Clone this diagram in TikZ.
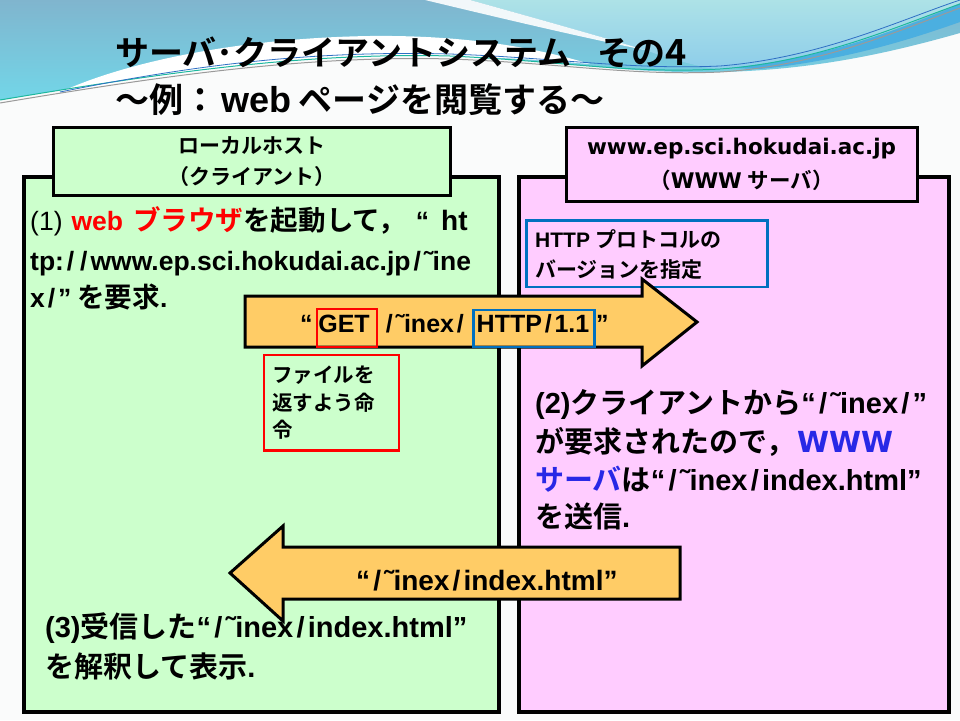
\documentclass[tikz,border=0pt]{standalone}
\usepackage{fontspec}
\setmainfont{Liberation Sans}
\newfontfamily\jpA{Noto Sans CJK JP}[Scale=1.04,BoldFont={Noto Sans CJK JP Bold}]
\newfontfamily\jpB{Noto Sans CJK JP}[BoldFont={Noto Sans CJK JP Bold}]
\newfontfamily\jpt{Noto Sans CJK JP}[BoldFont={Noto Sans CJK JP Bold}]
\newfontfamily\dv{DejaVu Sans}
\newcommand\SL{\makebox[0.5em]{/}}
\definecolor{bgwhite}{HTML}{FAFBFB}
\definecolor{skyA}{HTML}{80B5CE}
\definecolor{skyB}{HTML}{72D6E8}
\definecolor{skyC}{HTML}{ADE2E7}
\definecolor{skyD}{HTML}{8DCDEA}
\definecolor{skyband}{HTML}{4BAFE0}
\definecolor{lineteal}{HTML}{1DB89E}
\definecolor{lineblue}{HTML}{2F6FC4}
\definecolor{linegrey}{HTML}{9A9A9A}
\definecolor{boxgreen}{HTML}{CCFFCC}
\definecolor{boxpink}{HTML}{FFCCFF}
\definecolor{arrfill}{HTML}{FFCC66}
\definecolor{hblue}{HTML}{0070C0}
\definecolor{wblue}{RGB}{40,40,230}
\tikzset{
  bigbox/.style={draw=black,line width=3.5pt,inner sep=0pt,anchor=north west},
  lblbox/.style={draw=black,line width=3pt,inner sep=0pt,align=center},
  redbox/.style={draw=red,line width=2.5pt,inner sep=0pt,anchor=north west},
  bluebox/.style={draw=hblue,line width=2.5pt,inner sep=0pt,anchor=north west},
  arrowshape/.style={draw=black,line width=3pt,fill=arrfill,line join=miter},
  txt/.style={anchor=base west,inner sep=0pt},
  bodyA/.style={txt,font=\bfseries\fontsize{26.5}{30}\selectfont},
  bodyB/.style={txt,font=\bfseries\fontsize{29}{33}\selectfont},
  small/.style={txt,font=\bfseries\fontsize{21}{27}\selectfont},
  arrtxt/.style={txt,font=\bfseries\fontsize{25}{28}\selectfont},
}
\begin{document}
\begin{tikzpicture}[x=1pt,y=-1pt]
\useasboundingbox (0,0) rectangle (960,720);
% background
\fill[bgwhite] (0,0) rectangle (960,720);
\shade[top color=skyA,bottom color=skyB] (0,0) -- (960,0) -- (960,33)
  .. controls (900,50) and (820,70) .. (720,72)
  .. controls (620,74) and (560,60) .. (450,56)
  .. controls (300,52) and (150,75) .. (0,100) -- cycle;
\shade[top color=skyC,bottom color=skyD] (470,0) -- (960,0) -- (960,3)
  .. controls (900,28) and (820,62) .. (720,70)
  .. controls (690,65) and (665,57) .. (645,50)
  .. controls (585,32) and (520,14) .. (470,0) -- cycle;
\fill[skyband] (730,68) .. controls (830,58) and (910,25) .. (960,4) -- (960,22)
  .. controls (920,36) and (850,60) .. (760,69) -- cycle;
\fill[white] (50,97) .. controls (120,62) and (240,38) .. (370,36)
  .. controls (460,35) and (530,46) .. (590,64)
  .. controls (540,60) and (500,57) .. (450,57)
  .. controls (300,53) and (150,76) .. (50,95) -- cycle;
\fill[white,opacity=0.9] (425,0) -- (470,0) .. controls (520,14) and (585,32) .. (645,50)
  .. controls (580,37) and (500,18) .. (425,0) -- cycle;
\draw[linegrey,line width=1pt] (0,103) .. controls (150,78) and (300,55) .. (450,59)
  .. controls (560,63) and (630,76) .. (720,72) .. controls (820,66) and (900,30) .. (960,8);
\draw[lineteal,line width=1pt] (0,100) .. controls (150,75) and (300,52) .. (450,56)
  .. controls (560,61) and (630,74) .. (720,69) .. controls (820,62) and (900,25) .. (960,4);
\draw[lineblue,line width=0.8pt] (60,92) .. controls (180,68) and (300,50) .. (450,54)
  .. controls (560,58) and (630,70) .. (720,66) .. controls (820,58) and (900,20) .. (960,0);

% title
\node[txt,font=\bfseries\jpt\fontsize{34}{40}\selectfont] (title1) at (115,65)
  {サーバ･クライアントシステム\hspace{26pt}その{\fontsize{36}{40}\selectfont 4}};
\node[txt,font=\bfseries\jpt\fontsize{34}{40}\selectfont] (title2) at (115,112)
  {～例：\hspace{4pt}{\rmfamily\fontsize{36}{40}\selectfont web} ページを閲覧する～};

% big boxes
\node[bigbox,fill=boxgreen,minimum width=475pt,minimum height=535pt] (client) at (22,175) {};
\node[bigbox,fill=boxpink,minimum width=430pt,minimum height=535pt] (server) at (517,175) {};

% labels
\node[lblbox,fill=boxgreen,minimum width=396.5pt,minimum height=68pt,
  font=\bfseries\jpt\fontsize{21}{31}\selectfont] (clientlbl) at (251.75,161.5)
  {ローカルホスト\\（クライアント）};
\node[lblbox,fill=boxpink,minimum width=351pt,minimum height=73.5pt,
  font=\bfseries\fontsize{21.5}{34}\selectfont] (serverlbl) at (741.5,164.25)
  {{\dv www.ep.sci.hokudai.ac.jp}\\{\jpt（}{\dv WWW} {\jpt サーバ）}};

% HTTP note
\node[bluebox,minimum width=241pt,minimum height=66.5pt] (httpnote) at (525,219) {};
\node[small] (httpnoteA) at (535,247) {HTTP {\jpt\fontsize{21}{27}\selectfont プロトコルの}};
\node[small] (httpnoteB) at (535,277) {\jpt\fontsize{21}{27}\selectfont バージョンを指定};

% request arrow
\draw[arrowshape] (245,296) -- (642,296) -- (642,279) -- (697,322) -- (642,366)
  -- (642,347) -- (245,347) -- cycle;
\node[redbox,minimum width=60pt,minimum height=38pt] (getbox) at (315.5,307.5) {};
\node[bluebox,minimum width=121pt,minimum height=37pt] (verbox) at (472,308.5) {};
\node[arrtxt] (q1) at (300,332) {“};
\node[arrtxt,anchor=base] (gettxt) at (344,332) {GET};
\node[arrtxt] (pathtxt) at (383,332) {\SL˜inex\SL};
\node[arrtxt,anchor=base] (vertxt) at (533,332) {HTTP\SL 1.1};
\node[arrtxt] (q2) at (596,332) {”};

% command note
\node[redbox,minimum width=135pt,minimum height=95.5pt] (cmdnote) at (262.5,353.5) {};
\node[small] (cmdA) at (272,382) {\jpt\fontsize{20.5}{27}\selectfont ファイルを};
\node[small] (cmdB) at (272,410) {\jpt\fontsize{20.5}{27}\selectfont 返すよう命};
\node[small] (cmdC) at (272,437) {\jpt\fontsize{20.5}{27}\selectfont 令};

% response arrow
\draw[arrowshape] (680,547) -- (283,547) -- (283,526) -- (230,573) -- (283,621)
  -- (283,599) -- (680,599) -- cycle;
\node[txt,font=\bfseries\fontsize{28}{32}\selectfont] (resp) at (356,590) {“\SL˜inex\SL index.html”};

% step 1
\node[bodyA] (s1a) at (30,230) {{\mdseries(1)}\hspace{9pt}\textcolor{red}{web\hspace{10pt}{\jpA ブラウザ}}{\jpA を起動して，}\hspace{10pt}“\hspace{12pt}{\fontsize{28}{30}\selectfont ht}};
\node[bodyA] (s1b) at (30,270) {tp:\SL\SL www.ep.sci.hokudai.ac.jp\SL˜ine};
\node[bodyA] (s1c) at (30,307) {x\SL”\hspace{6pt}{\jpA を要求}.};

% step 2
\node[bodyB] (s2a) at (535,413) {(2){\jpB クライアントから}“\SL˜inex\SL”};
\node[bodyB] (s2b) at (535,452) {{\jpB が要求されたので，}\hspace{2pt}\textcolor{wblue}{\dv WWW}};
\node[bodyB] (s2c) at (535,490) {\textcolor{wblue}{\jpB サーバ}{\jpB は}“\SL˜inex\SL index.html”};
\node[bodyB] (s2d) at (535,527) {{\jpB を送信}.};

% step 3
\node[bodyB] (s3a) at (45,637) {(3){\jpB 受信した}“\SL˜inex\SL index.html”};
\node[bodyB] (s3b) at (45,677) {{\jpB を解釈して表示}.};
\end{tikzpicture}
\end{document}
